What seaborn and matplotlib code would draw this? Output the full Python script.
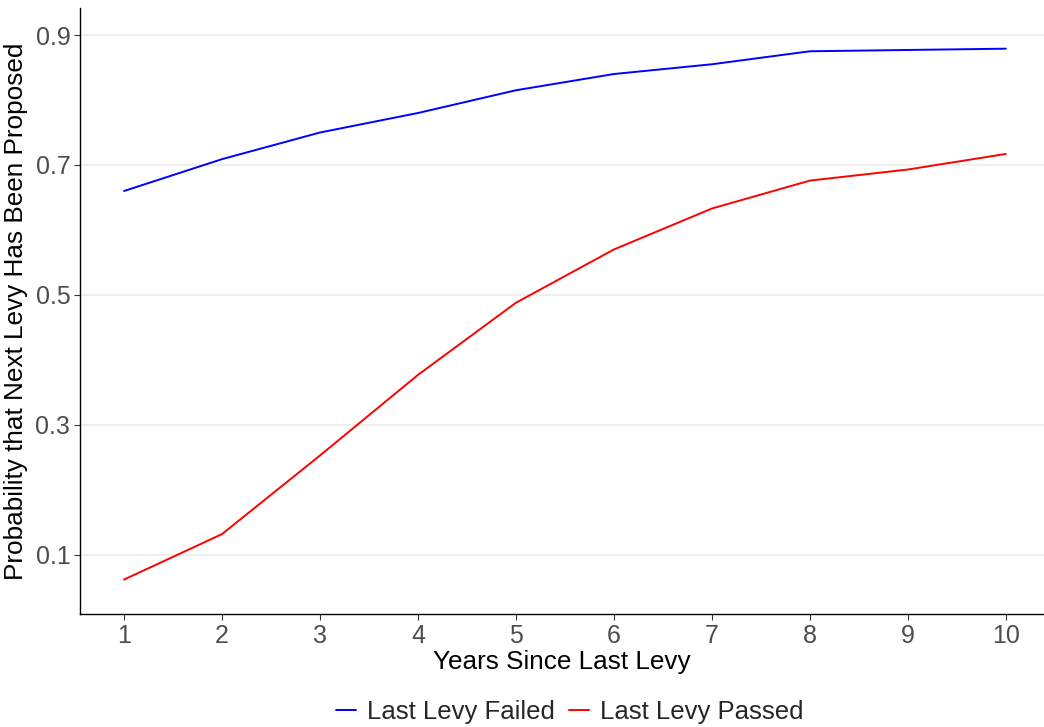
import pandas as pd
import matplotlib
matplotlib.use("Agg")
import matplotlib.pyplot as plt
import seaborn as sns

# values
years = [1, 2, 3, 4, 5, 6, 7, 8, 9, 10]
failed = [0.660, 0.709, 0.750, 0.780, 0.815, 0.840, 0.855, 0.875, 0.877, 0.879]
passed = [0.062, 0.132, 0.253, 0.377, 0.488, 0.570, 0.633, 0.676, 0.693, 0.717]
groups = ["Last Levy Failed", "Last Levy Passed"]

df = pd.DataFrame({
    "year": years * 2,
    "prob": failed + passed,
    "group": [groups[0]] * len(years) + [groups[1]] * len(years),
})

sns.set_style("white")
plt.rcParams['font.family'] = ['Liberation Sans', 'DejaVu Sans']

fig = plt.figure(figsize=(10.44, 7.27), dpi=100)
ax = fig.add_axes([80 / 1044, 113 / 727, 964 / 1044, 606 / 727])

sns.lineplot(data=df, x="year", y="prob", hue="group",
             palette={groups[0]: "#0000ff", groups[1]: "#ff0000"},
             linewidth=1.4, ax=ax, legend=False)

ax.set_xlim(0.55, 10.39)
ax.set_ylim(0.009, 0.9416)
ax.set_xticks(years)
ax.set_yticks([0.1, 0.3, 0.5, 0.7, 0.9])
ax.set_yticklabels(["0.1", "0.3", "0.5", "0.7", "0.9"])
ax.yaxis.grid(True, color="#ebebeb", linewidth=1.1)
ax.xaxis.grid(False)
ax.tick_params(axis="both", labelsize=18, labelcolor="#4d4d4d", color="#333333",
               length=4, width=0.8, bottom=True, left=True, pad=3)
ax.set_xlabel("Years Since Last Levy", fontsize=18.8, color="black", labelpad=2)
ax.set_ylabel("Probability that Next Levy Has Been Proposed", fontsize=18.8,
              color="black", labelpad=5)

for s in ["top", "right"]:
    ax.spines[s].set_visible(False)
for s in ["left", "bottom"]:
    ax.spines[s].set_color("black")
    ax.spines[s].set_linewidth(1.0)

handles = [plt.Line2D([], [], color="#0000ff", lw=1.4),
           plt.Line2D([], [], color="#ff0000", lw=1.4)]
fig.legend(handles, groups, loc="center", bbox_to_anchor=(570 / 1044, 15 / 727), ncol=2,
           frameon=False, fontsize=18.5, handlelength=0.75, handletextpad=0.45,
           columnspacing=0.55)

fig.savefig("out.png", dpi=100)
